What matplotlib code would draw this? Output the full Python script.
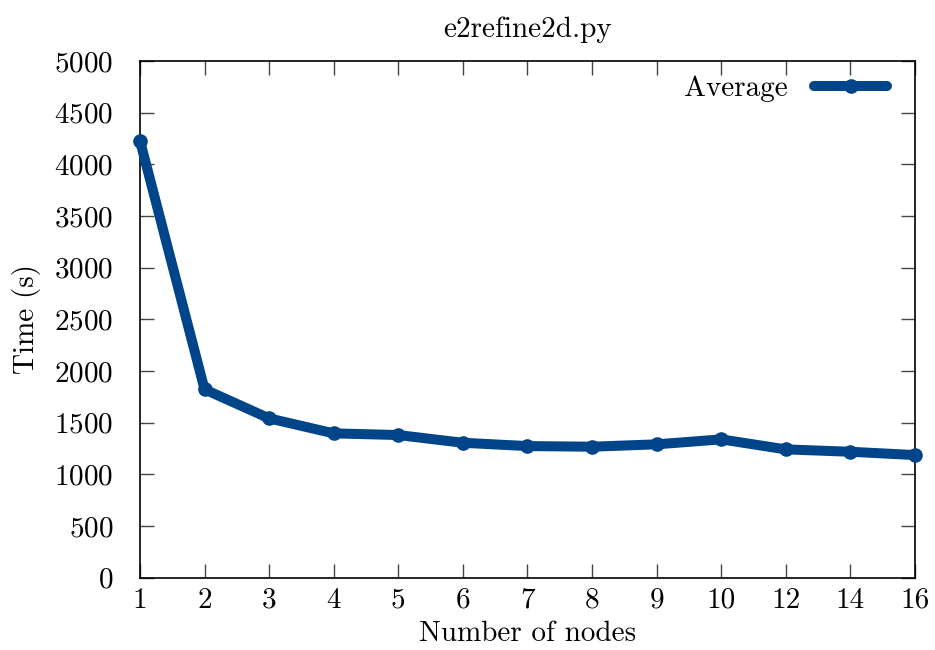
import matplotlib
matplotlib.use("Agg")
import matplotlib.pyplot as plt
import numpy as np

# data
nodes = ["1", "2", "3", "4", "5", "6", "7", "8", "9", "10", "12", "14", "16"]
avg_time = [4230, 1823, 1542, 1397, 1381, 1306, 1274, 1268, 1291, 1339, 1242, 1219, 1187]
y_ticks = [0, 500, 1000, 1500, 2000, 2500, 3000, 3500, 4000, 4500, 5000]

LINE_COLOR = "#00458a"
FS = 21

plt.rcParams["font.family"] = "cmr10"
plt.rcParams["mathtext.fontset"] = "cm"
plt.rcParams["axes.formatter.use_mathtext"] = True

fig = plt.figure(figsize=(9.35, 6.5), dpi=100)
ax = fig.add_axes([0.1497, 0.1112, 0.8289, 0.7948])

x = np.arange(len(nodes))
ax.plot(x, avg_time, color=LINE_COLOR, linewidth=7.2, marker="o",
        markersize=9.5, solid_capstyle="round", solid_joinstyle="round",
        label="Average", clip_on=False, zorder=3)

ax.set_xlim(0, len(nodes) - 1)
ax.set_ylim(0, 5000)
ax.set_xticks(x)
ax.set_xticklabels(nodes)
ax.set_yticks(y_ticks)

ax.tick_params(axis="both", which="major", direction="in", length=10, width=1,
               top=True, right=True, labelsize=FS, color="#444444")
ax.tick_params(axis="y", pad=19)
ax.tick_params(axis="x", pad=7)
for sp in ax.spines.values():
    sp.set_linewidth(1.2)

ax.set_title("e2refine2d.py", fontsize=FS, pad=17)
ax.set_xlabel("Number of nodes", fontsize=FS, labelpad=5)
ax.set_ylabel("Time (s)", fontsize=FS, labelpad=10)

ax.legend(loc="upper right", bbox_to_anchor=(0.987, 1.006), frameon=False,
          fontsize=FS, handlelength=2.5, markerfirst=False,
          borderaxespad=0.2, handletextpad=0.9)

plt.savefig("out.png", dpi=100)
